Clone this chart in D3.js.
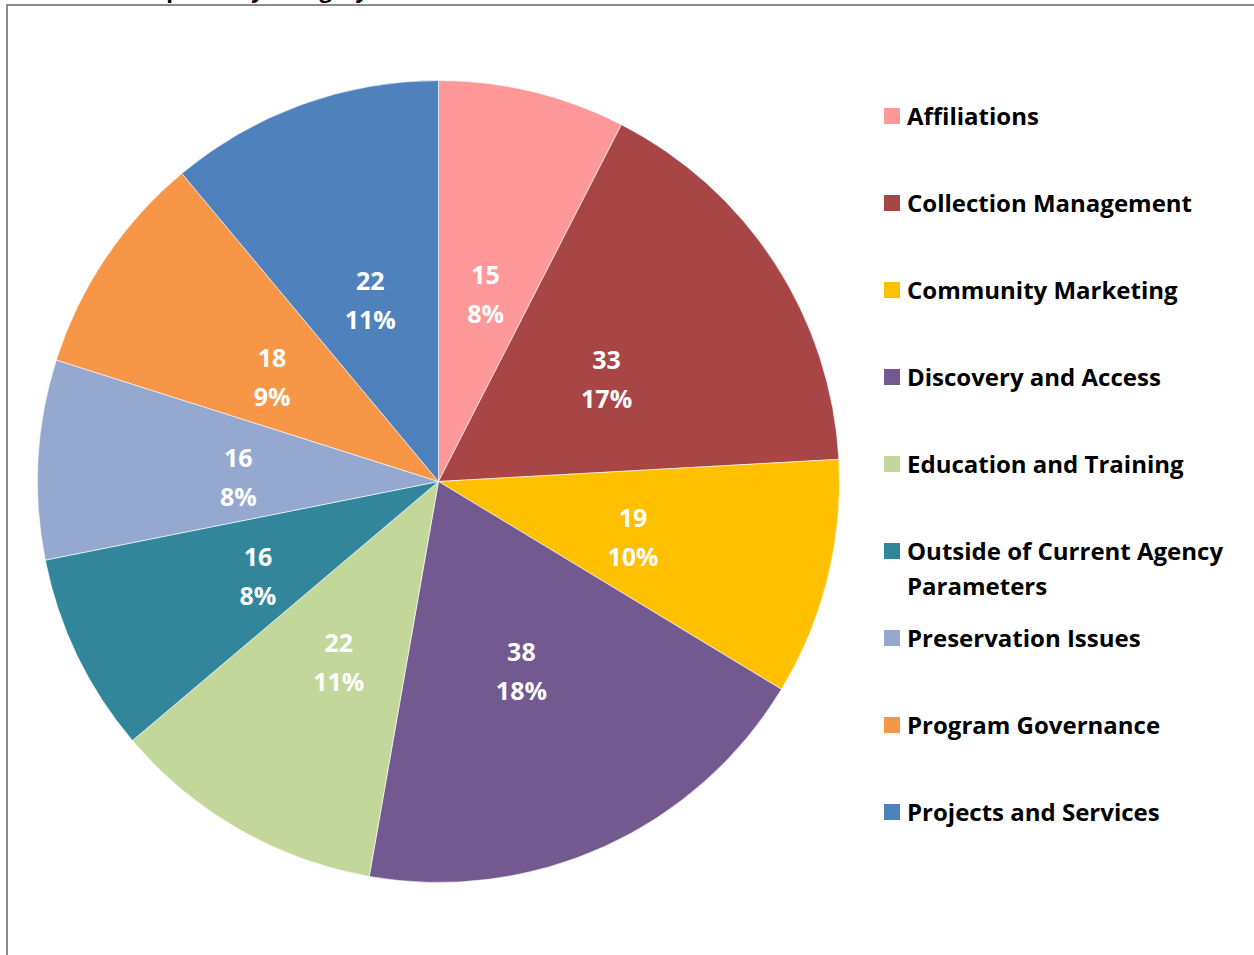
<!DOCTYPE html>
<html>
<head>
<meta charset="utf-8">
<script src="https://cdn.jsdelivr.net/npm/d3@7"></script>
<style>
  html, body { margin: 0; padding: 0; background: #fff; overflow: hidden; }
  svg { display: block; font-family: "Open Sans", Lato, sans-serif; }
</style>
</head>
<body>
<svg id="chart" width="1254" height="955"></svg>
<script>
const categories = [
  "Affiliations",
  "Collection Management",
  "Community Marketing",
  "Discovery and Access",
  "Education and Training",
  "Outside of Current Agency Parameters",
  "Preservation Issues",
  "Program Governance",
  "Projects and Services"
];
const values = [15, 33, 19, 38, 22, 16, 16, 18, 22];
const percentLabels = ["8%", "17%", "10%", "18%", "11%", "8%", "8%", "9%", "11%"];
const colors = ["#FF9999", "#A84646", "#FFC000", "#725990", "#C4D79B", "#31869B", "#95A9D0", "#F79646", "#4F81BD"];
const legendLines = [
  ["Affiliations"],
  ["Collection Management"],
  ["Community Marketing"],
  ["Discovery and Access"],
  ["Education and Training"],
  ["Outside of Current Agency", "Parameters"],
  ["Preservation Issues"],
  ["Program Governance"],
  ["Projects and Services"]
];
const titleText = "Requests by Category";

const svg = d3.select("#chart");

// partially visible title at top (cut off by the page edge, as in the reference)
svg.append("text")
  .attr("x", 368).attr("y", -2)
  .attr("text-anchor", "end")
  .attr("font-size", 22).attr("font-weight", "bold")
  .attr("fill", "#000")
  .text(titleText);

// chart border
svg.append("rect")
  .attr("x", 7).attr("y", 5)
  .attr("width", 1260).attr("height", 970)
  .attr("fill", "none")
  .attr("stroke", "#8a8a8a").attr("stroke-width", 2);

const cx = 438.5, cy = 481.5, r = 401;
const color = d3.scaleOrdinal().domain(categories).range(colors);

const pie = d3.pie().sort(null).value(d => d.v);
const data = categories.map((c, i) => ({ c, v: values[i], p: percentLabels[i] }));
const arcs = pie(data);
const arc = d3.arc().innerRadius(0).outerRadius(r);
const labelArc = d3.arc().innerRadius(r * 0.5).outerRadius(r * 0.5);

const g = svg.append("g").attr("transform", `translate(${cx},${cy})`);
g.selectAll("path.slice").data(arcs).join("path")
  .attr("class", "slice")
  .attr("d", arc)
  .attr("fill", d => color(d.data.c))
  .attr("stroke", "#fff").attr("stroke-width", 0.6);

const lbl = g.selectAll("text.lbl").data(arcs).join("text")
  .attr("class", "lbl")
  .attr("transform", d => { const [x, y] = labelArc.centroid(d); return `translate(${x},${y})`; })
  .attr("text-anchor", "middle")
  .attr("font-size", 25).attr("font-weight", "bold")
  .attr("fill", "#fff");
lbl.append("tspan").attr("x", 0).attr("dy", "-0.12em").text(d => d.data.v);
lbl.append("tspan").attr("x", 0).attr("dy", "1.56em").text(d => d.data.p);

// legend
const ly = d3.scalePoint().domain(categories).range([116, 812]);
const leg = svg.append("g");
const items = leg.selectAll("g").data(categories).join("g")
  .attr("transform", d => `translate(884,${ly(d)})`);
items.append("rect")
  .attr("x", 0).attr("y", -8).attr("width", 16).attr("height", 16)
  .attr("fill", d => color(d));
const lt = items.append("text")
  .attr("x", 23).attr("y", 8.5)
  .attr("font-size", 24).attr("font-weight", "bold").attr("fill", "#000");
lt.selectAll("tspan").data((d, i) => legendLines[i]).join("tspan")
  .attr("x", 23).attr("dy", (d, j) => j === 0 ? 0 : 35)
  .text(d => d);
</script>
</body>
</html>
